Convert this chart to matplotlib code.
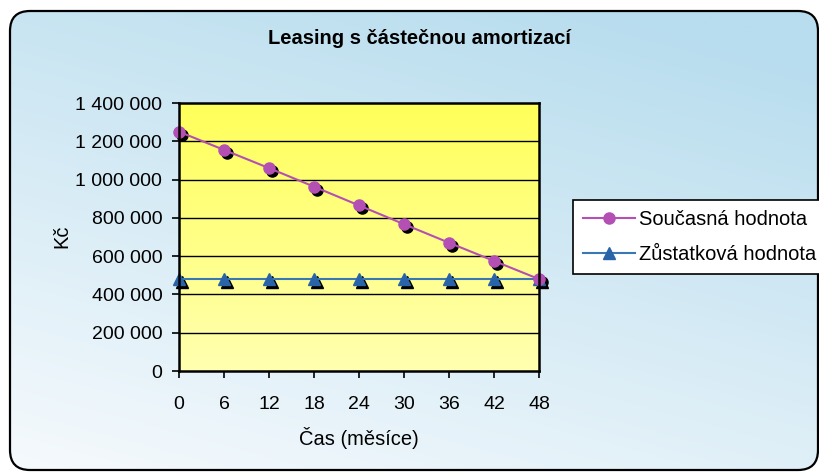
import numpy as np
import matplotlib
matplotlib.use("Agg")
import matplotlib.pyplot as plt
from matplotlib.patches import FancyBboxPatch
from matplotlib.lines import Line2D
import matplotlib.transforms as mtransforms

plt.rcParams['font.family'] = ['Liberation Sans', 'DejaVu Sans']

# ---- data ----
months = [0, 6, 12, 18, 24, 30, 36, 42, 48]
soucasna = [1250000, 1155000, 1060000, 963000, 865000, 767000, 670000, 575000, 480000]
zustatkova = [480000, 480000, 480000, 480000, 480000, 480000, 480000, 480000, 480000]
yticks = [0, 200000, 400000, 600000, 800000, 1000000, 1200000, 1400000]
title = "Leasing s částečnou amortizací"
xlabel = "Čas (měsíce)"
ylabel = "Kč"
labels = ["Současná hodnota", "Zůstatková hodnota"]

W, H = 819, 474
fig = plt.figure(figsize=(W / 100, H / 100), dpi=100)

# ---- background gradient inside rounded frame ----
bg = fig.add_axes([0, 0, 1, 1], zorder=-10)
bg.set_xlim(0, W)
bg.set_ylim(H, 0)
bg.axis('off')
xx, yy = np.meshgrid(np.linspace(0, 1, 200), np.linspace(0, 1, 120))
t = np.clip(0.35 * xx + 0.75 * (1 - yy), 0, 1)
c0 = np.array([0xf6, 0xfa, 0xfd]) / 255.0
c1 = np.array([0xb8, 0xdd, 0xee]) / 255.0
img = c0[None, None, :] * (1 - t[..., None]) + c1[None, None, :] * t[..., None]
im = bg.imshow(img, extent=[0, W, H, 0], aspect='auto', interpolation='bilinear')
frame = FancyBboxPatch((10, 11), 808, 459, boxstyle="round,pad=0,rounding_size=20",
                       facecolor='none', edgecolor='black', linewidth=1.6,
                       transform=bg.transData, zorder=5)
bg.add_patch(frame)
im.set_clip_path(frame)

# ---- main axes ----
L, R, T, B = 179, 539, 103, 371
ax = fig.add_axes([L / W, 1 - B / H, (R - L) / W, (B - T) / H])
ax.set_xlim(0, 48)
ax.set_ylim(0, 1400000)

# yellow vertical gradient
ygrad = np.linspace(0, 1, 100)[:, None]
ycol0 = np.array([0xff, 0xff, 0x5a]) / 255.0  # top
ycol1 = np.array([0xff, 0xff, 0xb0]) / 255.0  # bottom
yimg = ycol0[None, None, :] * (1 - ygrad[..., None]) + ycol1[None, None, :] * ygrad[..., None]
yimg = np.repeat(yimg, 2, axis=1)
ax.imshow(yimg, extent=[0, 48, 0, 1400000], aspect='auto', zorder=0, interpolation='bilinear')

for yv in yticks[1:-1]:
    ax.axhline(yv, color='black', linewidth=1.0, zorder=1)

purple = '#b44fb4'
blue = '#2a64a8'
line_blue = '#3a78b4'

shadow = mtransforms.offset_copy(ax.transData, fig=fig, x=3, y=-3, units='dots')
ax.plot(months, soucasna, linestyle='none', marker='o', markersize=8,
        color='black', transform=shadow, zorder=2, clip_on=False)
ax.plot(months, zustatkova, linestyle='none', marker='^', markersize=9,
        color='black', transform=shadow, zorder=2, clip_on=False)
ax.plot(months, soucasna, color=purple, linewidth=1.5, marker='o', markersize=8,
        markeredgecolor=purple, zorder=4, clip_on=False)
ax.plot(months, zustatkova, color=line_blue, linewidth=1.5, marker='^', markersize=9,
        markerfacecolor=blue, markeredgecolor=blue, zorder=3, clip_on=False)

ax.set_xticks(months)
ax.set_xticklabels([str(m) for m in months])
ax.set_yticks(yticks)
ax.set_yticklabels([f"{v:,}".replace(",", " ") for v in yticks])
ax.tick_params(axis='x', direction='out', length=5, width=1.2, pad=13, labelsize=14)
ax.tick_params(axis='y', direction='out', length=5, width=1.2, pad=7, labelsize=14)
for s in ax.spines.values():
    s.set_linewidth(1.8)
    s.set_color('black')
    s.set_zorder(6)

fig.text(419 / W, 1 - 38 / H, title, ha='center', va='center', fontsize=14.5, fontweight='bold')
fig.text(359 / W, 1 - 438 / H, xlabel, ha='center', va='center', fontsize=14.5)
fig.text(62 / W, 1 - 236 / H, ylabel, ha='center', va='center', fontsize=14.5, rotation=90)

handles = [Line2D([0], [0], color=purple, linewidth=1.5, marker='o', markersize=8),
           Line2D([0], [0], color=line_blue, linewidth=1.5, marker='^', markersize=9,
                  markerfacecolor=blue, markeredgecolor=blue)]
leg = fig.legend(handles, labels, loc='upper left', bbox_to_anchor=(573 / W, 1 - 200 / H),
                 bbox_transform=fig.transFigure, frameon=True, fancybox=False,
                 fontsize=14.5, handlelength=2.6, handletextpad=0.2, borderpad=0.5,
                 labelspacing=0.8, borderaxespad=0, edgecolor='black', framealpha=1)
leg.get_frame().set_linewidth(1.2)

fig.savefig("out.png", dpi=100)
